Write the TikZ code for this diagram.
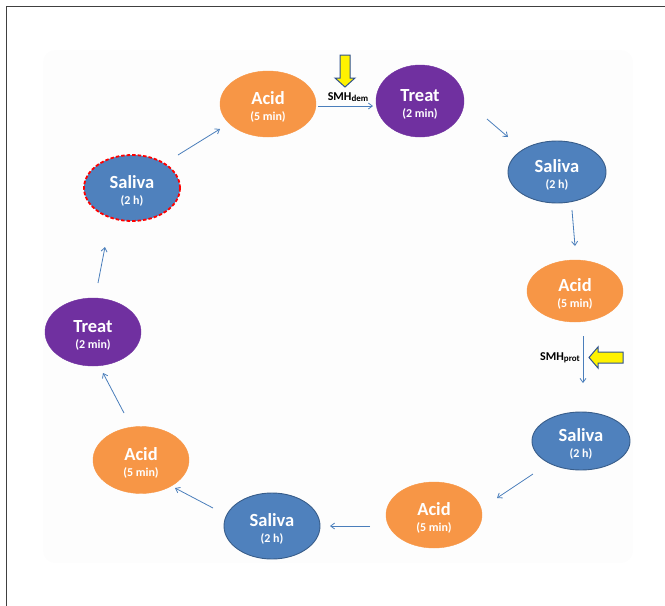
\documentclass[tikz,border=0pt]{standalone}
\usepackage{fontspec}
\setmainfont{Carlito}
\usetikzlibrary{shapes.geometric,arrows.meta,calc}
\definecolor{acidC}{HTML}{F79646}
\definecolor{treatC}{HTML}{7030A0}
\definecolor{salC}{HTML}{4F81BD}
\definecolor{salB}{HTML}{385D8A}
\definecolor{arrC}{HTML}{4A7EBB}
\definecolor{yelB}{HTML}{2F528F}
\definecolor{panelC}{HTML}{FDFDFD}
\tikzset{
  oval/.style={ellipse, inner sep=0pt},
  acid/.style={oval, fill=acidC, draw=acidC, minimum width=96pt, minimum height=66pt},
  treat/.style={oval, fill=treatC, draw=treatC, minimum width=88pt, minimum height=72pt},
  saliva/.style={oval, fill=salC, draw=salB, line width=0.9pt, minimum width=98pt, minimum height=62pt},
  firstsal/.style={oval, fill=salC, draw=red, line width=1.8pt, dash pattern=on 3.5pt off 2pt, minimum width=96pt, minimum height=66pt},
  lbl/.style={text=white, align=center, font=\bfseries\fontsize{12}{16}\selectfont, inner sep=0pt, yshift=-3pt},
  arr/.style={draw=arrC, line width=0.8pt, -{Straight Barb[length=4pt,width=6pt]}},
  smh/.style={text=black, font=\bfseries\fontsize{12}{14}\selectfont, inner sep=0pt},
  block/.style={fill=yellow, draw=yelB, line width=1pt, line join=miter}
}
\newcommand{\mylab}[2]{{\fontsize{18.5}{16}\selectfont #1}\\#2}
\begin{document}
\begin{tikzpicture}[x=1pt,y=-1pt]
\useasboundingbox (0,0) rectangle (665,606);
% faint panel
\fill[panelC, rounded corners=12pt] (43,50) rectangle (633,563);
% frame
\draw[line width=1.8pt, draw=black!75] (6.5,606) -- (6.5,6.5) -- (665,6.5);

% nodes
\node[acid, label={[lbl]center:\mylab{Acid}{(5 min)}}] (acid1) at (268,104) {};
\node[treat, label={[lbl]center:\mylab{Treat}{(2 min)}}] (treat1) at (420,101) {};
\node[saliva, label={[lbl]center:\mylab{Saliva}{(2 h)}}] (sal1) at (557,172) {};
\node[acid, minimum height=62pt, label={[lbl]center:\mylab{Acid}{(5 min)}}] (acid2) at (575,291) {};
\node[saliva, minimum height=58pt, label={[lbl]center:\mylab{Saliva}{(2 h)}}] (sal2) at (581,441) {};
\node[acid, label={[lbl]center:\mylab{Acid}{(5 min)}}] (acid3) at (434,515) {};
\node[saliva, minimum width=96pt, minimum height=66pt, label={[lbl]center:\mylab{Saliva}{(2 h)}}] (sal3) at (272,526) {};
\node[acid, minimum height=67pt, label={[lbl]center:\mylab{Acid}{(5 min)}}] (acid4) at (141,460) {};
\node[treat, minimum width=96pt, minimum height=68pt, label={[lbl]center:\mylab{Treat}{(2 min)}}] (treat2) at (93,332) {};
\node[firstsal, label={[lbl]center:\mylab{Saliva}{(2 h)}}] (sal4) at (132,188) {};

% connectors
\draw[arr] ($(acid1.center)+(50,2)$) -- ($(treat1.center)+(-47,5)$);
\draw[arr] ($(treat1.center)+(67,18)$) -- ($(sal1.center)+(-49,-35)$);
\draw[arr] ($(sal1.center)+(15,38)$) -- ($(acid2.center)+(0,-45)$);
\draw[arr] ($(acid2.center)+(8,45)$) -- ($(sal2.center)+(2,-58)$);
\draw[arr] ($(sal2.center)+(-48,33)$) -- ($(acid3.center)+(63,-17)$);
\draw[arr] ($(acid3.center)+(-64,11)$) -- ($(sal3.center)+(58,0)$);
\draw[arr] ($(sal3.center)+(-59,-18)$) -- ($(acid4.center)+(34,28)$);
\draw[arr] ($(acid4.center)+(-17,-47)$) -- ($(treat2.center)+(10,41)$);
\draw[arr] ($(treat2.center)+(5,-49)$) -- ($(sal4.center)+(-27,59)$);
\draw[arr] ($(sal4.center)+(46,-33)$) -- ($(acid1.center)+(-48,25)$);

% SMH labels
\node[smh] (smhdem) at (348,97) {SMH{\fontsize{9}{9}\selectfont\raisebox{-1pt}{dem}}};
\node[smh, anchor=east] (smhprot) at (580,358) {SMH{\fontsize{9}{9}\selectfont\raisebox{-1pt}{prot}}};

% yellow block arrows
\draw[block] (340,55) -- (350,55) -- (350,78) -- (355,78) -- (345,87) -- (335,78) -- (340,78) -- cycle;
\draw[block] (623,352) -- (598,352) -- (598,347) -- (589,357.5) -- (598,368) -- (598,363) -- (623,363) -- cycle;
\end{tikzpicture}
\end{document}
